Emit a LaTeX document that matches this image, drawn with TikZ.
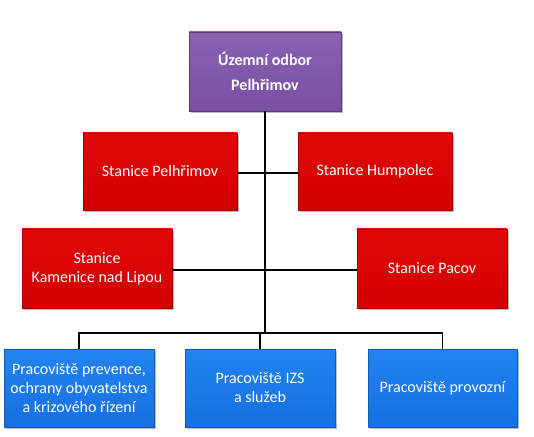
\documentclass[tikz,border=0pt]{standalone}
\usepackage{fontspec}
\setmainfont{Carlito}
\usetikzlibrary{shadows}
\definecolor{purpT}{HTML}{8A62B2}
\definecolor{purpB}{HTML}{7A4FA2}
\definecolor{redT}{HTML}{E00808}
\definecolor{redB}{HTML}{D20000}
\definecolor{blueT}{HTML}{2283F0}
\definecolor{blueB}{HTML}{1570E2}
\tikzset{
  x=1pt,y=1pt,
  box/.style={rectangle, inner sep=0pt, text=white, align=center,
    font=\fontsize{16}{19}\selectfont,
    drop shadow={shadow xshift=1.5pt, shadow yshift=-2pt, fill=black!50, opacity=0.55}},
  topbox/.style={box, top color=purpT, bottom color=purpB, draw=purpB!75!black, line width=0.5pt,
    font=\fontsize{16}{25}\selectfont\bfseries},
  redbox/.style={box, top color=redT, bottom color=redB, draw=redB!80!black, line width=0.5pt},
  bluebox/.style={box, top color=blueT, bottom color=blueB, draw=blueB!80!black, line width=0.5pt},
  conn/.style={draw=black, line width=1.8pt}
}
\begin{document}
\begin{tikzpicture}
\useasboundingbox (0,0) rectangle (534,436);
% top
\node[topbox, minimum width=152pt, minimum height=79pt] (top) at (265,364.5) {Územní odbor\\Pelhřimov};
% red row 1
\node[redbox, minimum width=154pt, minimum height=77pt] (pel) at (160,264.5) {Stanice Pelhřimov};
\node[redbox, minimum width=154pt, minimum height=77pt] (hum) at (375,264.5) {Stanice Humpolec};
% red row 2
\node[redbox, minimum width=150pt, minimum height=79pt] (kam) at (97,167.5) {Stanice\\Kamenice nad Lipou};
\node[redbox, minimum width=150pt, minimum height=79pt] (pac) at (432,167.5) {Stanice Pacov};
% blue
\node[bluebox, minimum width=150pt, minimum height=78pt] (prev) at (79,48) {Pracoviště prevence,\\ochrany obyvatelstva\\a krizového řízení};
\node[bluebox, minimum width=150pt, minimum height=78pt] (izs) at (260,48) {Pracoviště IZS\\a služeb};
\node[bluebox, minimum width=149pt, minimum height=78pt] (prov) at (442.5,48) {Pracoviště provozní};
% connectors
\coordinate (bus) at (265,103);
\coordinate (r1) at (265,263);
\coordinate (r2) at (265,166);
\draw[conn] (top.south) -- (bus);
\draw[conn] (pel.east |- r1) -- (hum.west |- r1);
\draw[conn] (kam.east |- r2) -- (pac.west |- r2);
\draw[conn] (prev.north) |- (bus) -| (prov.north);
\draw[conn] (izs.north) -- (izs.north |- bus);
\end{tikzpicture}
\end{document}
